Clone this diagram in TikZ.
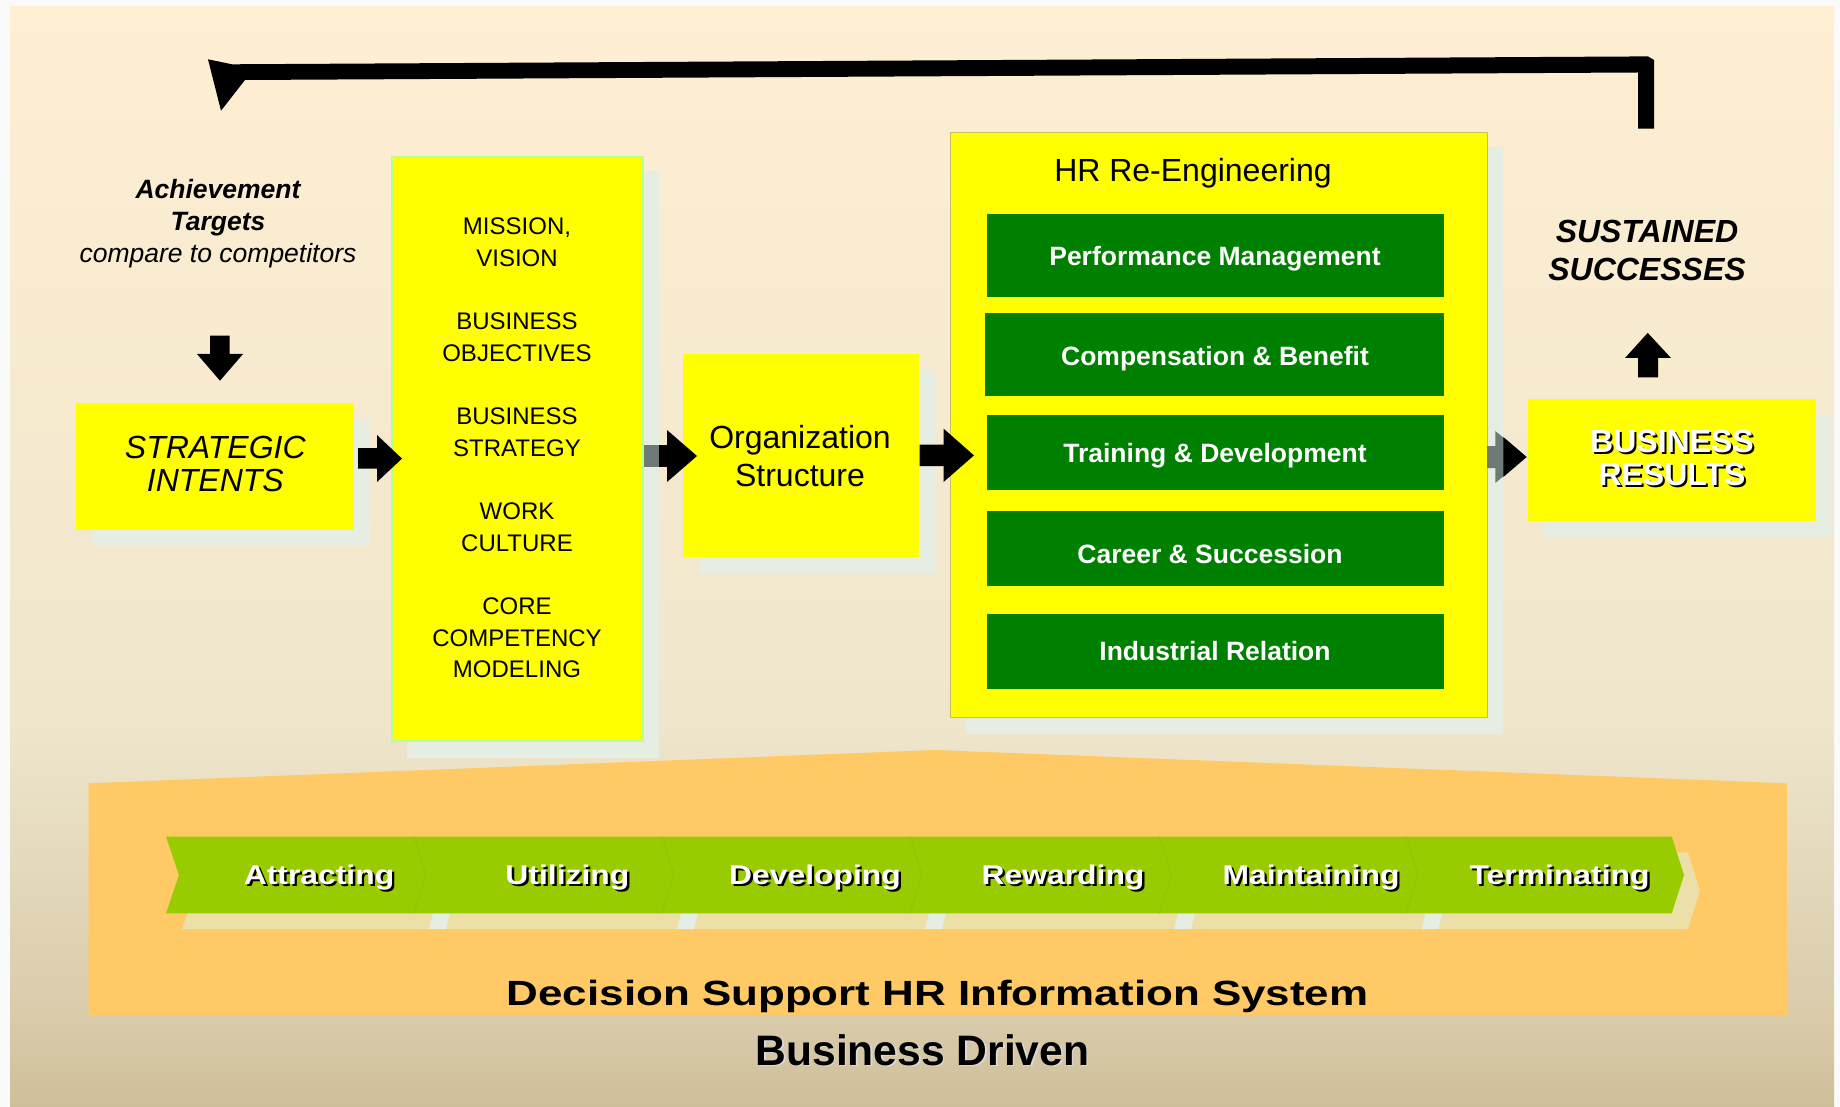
\documentclass[tikz,border=0pt]{standalone}
\usepackage{fontspec}
\setmainfont{Liberation Sans}
\definecolor{bgA}{HTML}{FFEFD3}
\definecolor{bgB}{HTML}{EFE6CC}
\definecolor{bgC}{HTML}{D9CBAA}
\definecolor{bgD}{HTML}{CEBE9A}
\definecolor{shadowc}{HTML}{E6EDE2}
\definecolor{ygreen}{HTML}{FFFF00}
\definecolor{dgreen}{HTML}{008000}
\definecolor{orangec}{HTML}{FFC966}
\definecolor{lime}{HTML}{99CC00}
\definecolor{limeD}{HTML}{8FC200}
\definecolor{chevsh}{HTML}{ECDFA8}
\definecolor{greyc}{HTML}{6E7A78}
\definecolor{colborder}{HTML}{BBFF88}
\definecolor{hrborder}{HTML}{C8C060}
\newcommand{\boxat}[5]{%
 \fill[shadowc] (#2+16,#3+16) rectangle (#4+16,#5+16);
 \node[yellowbox,minimum width=#4pt-#2pt,minimum height=#5pt-#3pt,anchor=north west] (#1) at (#2,#3) {};}
\newcommand{\stext}[1]{\leavevmode\rlap{\kern2pt\raisebox{-2pt}{\textcolor{black}{#1}}}\textcolor{white}{#1}}
\newcommand{\softtext}[1]{\leavevmode\rlap{\kern1.5pt\raisebox{-1.5pt}{\textcolor{black!15}{#1}}}\textcolor{black}{#1}}
\tikzset{
 yellowbox/.style={fill=ygreen,inner sep=0pt,outer sep=0pt},
 greenbox/.style={fill=dgreen,inner sep=0pt,outer sep=0pt,anchor=north west},
 greentext/.style={text=white,font=\fontsize{26.5}{30}\selectfont\bfseries,inner sep=0pt},
 arrowfill/.style={fill=black},
 seglabel/.style={font=\fontsize{27}{30}\selectfont\bfseries,inner sep=0pt,xscale=1.18},
 columntext/.style={font=\fontsize{24}{31.5}\selectfont,align=center,inner sep=0pt},
}
\begin{document}
\begin{tikzpicture}[x=1pt,y=-1pt]
\useasboundingbox (0,0) rectangle (1840,1107);
\fill[black!2] (0,0) rectangle (1840,1107);
\shade[top color=bgA,bottom color=bgB] (10,7) rectangle (1834,720.5);
\shade[top color=bgB,bottom color=bgC] (10,720) rectangle (1834,1020.5);
\shade[top color=bgC,bottom color=bgD] (10,1020) rectangle (1834,1107);
% feedback arrow
\fill[arrowfill] (221,110.7) -- (208,59.3) -- (232,64.3) -- (1648,56.4) -- (1654,60) -- (1654,128.6) -- (1638,128.6) -- (1638,72.5) -- (245,80) -- cycle;
% strategic
\boxat{strategic}{75.7}{402.5}{354}{530.4}
\node[font=\fontsize{32}{33.5}\selectfont\itshape,align=center,inner sep=0pt] (stxt) at (215.3,464.2) {STRATEGIC\\INTENTS};
% column
\fill[shadowc] (406.7,171.4) rectangle (659,758.3);
\node[yellowbox,draw=colborder,line width=2pt,minimum width=250.5pt,minimum height=584pt,anchor=north west] (column) at (392.4,157) {};
\node[columntext] (col1) at (517,242) {MISSION,\\VISION};
\node[columntext] (col2) at (517,337) {BUSINESS\\OBJECTIVES};
\node[columntext] (col3) at (517,432) {BUSINESS\\STRATEGY};
\node[columntext] (col4) at (517,527) {WORK\\CULTURE};
\node[columntext] (col5) at (517,638) {CORE\\COMPETENCY\\MODELING};
% org
\boxat{org}{682.5}{353.6}{919}{557}
\node[font=\fontsize{32}{37.5}\selectfont,align=center,inner sep=0pt] (orgt) at (800,456) {Organization\\Structure};
% HR
\fill[shadowc] (966,147) rectangle (1503.3,734);
\node[yellowbox,draw=hrborder,line width=.7pt,minimum width=537pt,minimum height=585pt,anchor=north west] (hr) at (950.5,132) {};
\node[font=\fontsize{32}{36}\selectfont,inner sep=0pt] (hrt) at (1193,172.8) {HR Re-Engineering};
\node[greenbox,minimum width=457pt,minimum height=82.8pt] (pm) at (987,214) {};
\node[greenbox,minimum width=459pt,minimum height=82.8pt] (cb) at (985,312.9) {};
\node[greenbox,minimum width=457pt,minimum height=74.6pt] (td) at (987,415) {};
\node[greenbox,minimum width=457pt,minimum height=75.1pt] (cs) at (987,510.5) {};
\node[greenbox,minimum width=457pt,minimum height=75.2pt] (ir) at (987,613.7) {};
\node[greentext] (pmt) at (1215,258.3) {Performance Management};
\node[greentext] (cbt) at (1215,358.5) {Compensation \& Benefit};
\node[greentext] (tdt) at (1215,455.3) {Training \& Development};
\node[greentext] (cst) at (1210,554) {Career \& Succession};
\node[greentext] (irt) at (1215,651) {Industrial Relation};
% results
\boxat{results}{1528}{398.6}{1815.5}{521.4}
\node[font=\fontsize{32}{33.5}\selectfont\bfseries,align=center,inner sep=0pt] (rest) at (1672,459) {\stext{BUSINESS}\\\stext{RESULTS}};
% side text
\node[font=\fontsize{26.5}{32.3}\selectfont,align=center,inner sep=0pt] (ach) at (218,223.8) {\bfseries\itshape Achievement\\\bfseries\itshape Targets\\\itshape compare to competitors};
\node[font=\fontsize{32}{38.5}\selectfont\bfseries\itshape,align=center,inner sep=0pt] (sus) at (1647,250.5) {SUSTAINED\\SUCCESSES};
% small arrows
\fill[arrowfill] (210,335.7) -- (229.5,335.7) -- (229.5,354) -- (243,354) -- (220,380.7) -- (197,354) -- (210,354) -- cycle;
\fill[arrowfill] (358,448) -- (377,448) -- (377,435) -- (402,458.6) -- (377,482) -- (377,468.6) -- (358,468.6) -- cycle;
\fill[greyc] (644,445) rectangle (659,466.8);
\fill[arrowfill] (659,445) -- (667,445) -- (667,430) -- (697,456) -- (667,482) -- (667,466.8) -- (659,466.8) -- cycle;
\fill[arrowfill] (919.5,444.6) -- (943.5,444.6) -- (943.5,428.6) -- (974,455.4) -- (943.5,482) -- (943.5,466) -- (919.5,466) -- cycle;
\fill[greyc] (1487,446) -- (1495.3,446) -- (1495.3,431) -- (1526.6,457) -- (1495.3,483) -- (1495.3,468) -- (1487,468) -- cycle;
\fill[arrowfill] (1503.3,437) -- (1526.6,457) -- (1503.3,477) -- cycle;
\fill[arrowfill] (1638,377.5) -- (1658,377.5) -- (1658,358) -- (1671,358) -- (1647.7,332.9) -- (1625,358) -- (1638,358) -- cycle;
% orange base
\fill[orangec] (88.6,783.3) -- (934.7,750) -- (1786.8,783.3) -- (1786.8,1015) -- (88.6,1015) -- cycle;
% chevron shadow
\fill[chevsh] (182,852.4) -- (1688,852.4) -- (1700,890.7) -- (1688,929) -- (182,929) -- (195,890.7) -- cycle;
\foreach \x in {433,681,929,1178,1425.5}{\fill[shadowc] (\x,913.3) -- (\x+17,913.3) -- (\x+13,929) -- (\x-4,929) -- cycle;}
% chevron
\fill[lime] (166,836.7) -- (1671.8,836.7) -- (1684,875) -- (1671.8,913.3) -- (166,913.3) -- (179,875) -- cycle;
\foreach \x in {414,662,910,1159.4,1406}{\draw[limeD,line width=.7pt] (\x,836.7) -- (\x+12,875) -- (\x,913.3);}
\node[seglabel] (s1) at (319,878.3) {\stext{Attracting}};
\node[seglabel] (s2) at (567.4,878.3) {\stext{Utilizing}};
\node[seglabel] (s3) at (815,878.3) {\stext{Developing}};
\node[seglabel] (s4) at (1063,878.3) {\stext{Rewarding}};
\node[seglabel] (s5) at (1311,878.3) {\stext{Maintaining}};
\node[seglabel] (s6) at (1559.6,878.3) {\stext{Terminating}};
% bottom text
\node[font=\fontsize{35}{40}\selectfont\bfseries,inner sep=0pt,xscale=1.255] (dss) at (937.6,996) {Decision Support HR Information System};
\node[font=\fontsize{42.6}{44}\selectfont\bfseries,inner sep=0pt] (bd) at (922.5,1051) {\softtext{Business Driven}};
\end{tikzpicture}
\end{document}
